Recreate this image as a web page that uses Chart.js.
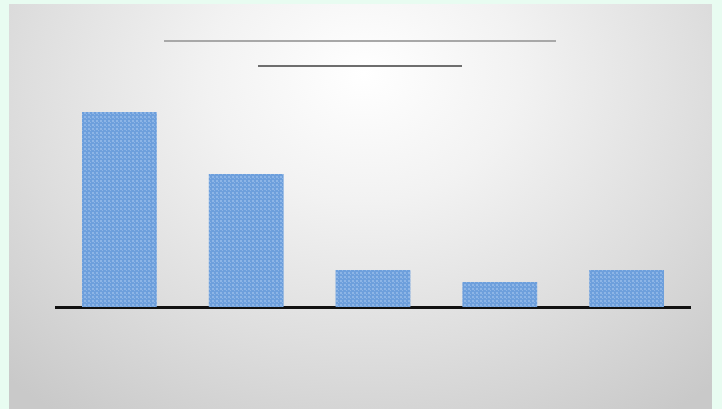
<!DOCTYPE html>
<html><head><meta charset="utf-8">
<script src="https://cdn.jsdelivr.net/npm/chart.js@4/dist/chart.umd.min.js"></script>
<style>
html,body{margin:0;padding:0;width:722px;height:409px;overflow:hidden;background:#e8fcf1;}
#panel{position:absolute;left:9px;top:4px;width:703px;height:405px;
background:radial-gradient(ellipse 520px 420px at 355px 70px,#ffffff 0%,#f2f2f2 30%,#dedede 65%,#c9c9c9 100%);}
.ln{position:absolute;height:2px;}
#wrap{position:absolute;left:0;top:0;width:722px;height:409px;}
</style></head>
<body>
<div id="panel"></div>
<div class="ln" style="left:164px;top:40px;width:392px;background:#a8a8a8;"></div>
<div class="ln" style="left:258px;top:65px;width:204px;background:#6e6e6e;"></div>
<div id="wrap"><canvas id="c" width="722" height="409"></canvas></div>
<script>
const categories = ["1", "2", "3", "4", "5"];
const values = [195, 133, 37, 25, 37];

function makePattern(){
  const p = document.createElement('canvas');
  p.width = 4; p.height = 4;
  const g = p.getContext('2d');
  g.fillStyle = '#6d9fdc'; g.fillRect(0,0,4,4);
  g.fillStyle = '#8db5e6';
  g.fillRect(0,0,2,2); g.fillRect(2,2,1,1);
  return g.createPattern(p,'repeat');
}
const ctx = document.getElementById('c').getContext('2d');
new Chart(ctx,{
  type:'bar',
  data:{labels:categories,datasets:[{data:values,backgroundColor:makePattern(),borderWidth:0,
    categoryPercentage:0.59,barPercentage:1}]},
  options:{
    responsive:false,animation:false,
    layout:{padding:{left:56,right:32,top:107,bottom:102}},
    plugins:{legend:{display:false},tooltip:{enabled:false},title:{display:false}},
    scales:{
      x:{display:true,grid:{display:false,drawTicks:false},ticks:{display:false},
         border:{display:true,color:'#111111',width:3}},
      y:{display:false,min:0,max:200}
    }
  }
});
</script>
</body></html>
